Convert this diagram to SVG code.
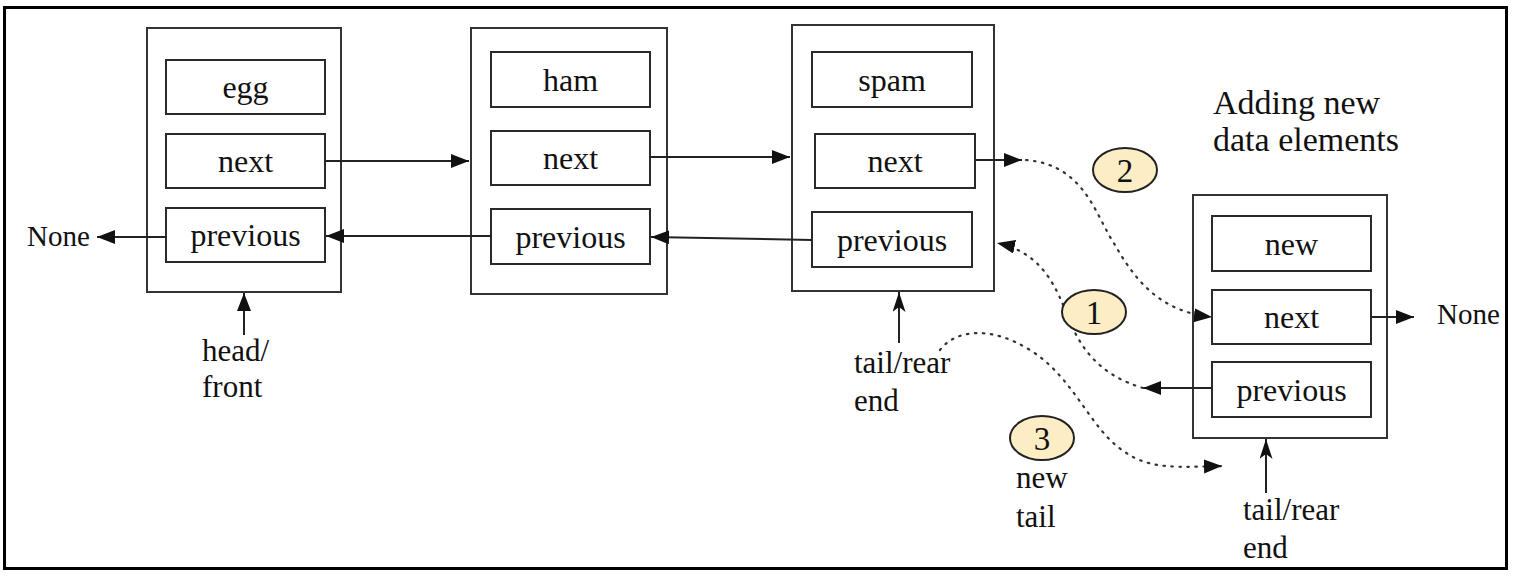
<svg xmlns="http://www.w3.org/2000/svg" width="1514" height="577" viewBox="0 0 1514 577">
<style>
.frame{fill:#fff;stroke:#000;stroke-width:3}
.outer{fill:#fff;stroke:#333;stroke-width:2}
.field{fill:#fff;stroke:#2a2a2a;stroke-width:2}
.t{font-family:"Liberation Serif","Times New Roman",serif;font-size:32px;fill:#111}
.lb{font-size:31px}
.tc{text-anchor:middle}
.ln{fill:none;stroke:#222;stroke-width:2}
.dot{fill:none;stroke:#333;stroke-width:2.2;stroke-dasharray:1.5 6.5;stroke-linecap:round}
.badge{fill:#fcedc4;stroke:#222;stroke-width:2}
</style>
<defs>
<marker id="ah" markerUnits="userSpaceOnUse" markerWidth="20" markerHeight="16" refX="18" refY="7" orient="auto">
<path d="M0,0 L18,7 L0,14 z" fill="#111"/>
</marker>
<marker id="av" markerUnits="userSpaceOnUse" markerWidth="22" markerHeight="16" refX="20" refY="6.5" orient="auto">
<path d="M0,0 L20,6.5 L0,13 L5,6.5 z" fill="#111"/>
</marker>
</defs>
<rect class="frame" x="4.5" y="7.5" width="1502" height="561"/>

<g id="node-egg">
<rect class="outer" x="147" y="28" width="194" height="264"/>
<rect class="field" x="166" y="60" width="159" height="54"/>
<text class="t tc" x="245.5" y="98">egg</text>
<rect class="field" x="166" y="134" width="159" height="54"/>
<text class="t tc" x="245.5" y="172">next</text>
<rect class="field" x="166" y="208" width="159" height="54"/>
<text class="t tc" x="245.5" y="246">previous</text>
</g>

<g id="node-ham">
<rect class="outer" x="471" y="28" width="196" height="266"/>
<rect class="field" x="491" y="52" width="159" height="55"/>
<text class="t tc" x="570.5" y="91">ham</text>
<rect class="field" x="491" y="131" width="159" height="54"/>
<text class="t tc" x="570.5" y="169">next</text>
<rect class="field" x="491" y="209" width="159" height="55"/>
<text class="t tc" x="570.5" y="248">previous</text>
</g>

<g id="node-spam">
<rect class="outer" x="792" y="25" width="202" height="266"/>
<rect class="field" x="812" y="52" width="160" height="55"/>
<text class="t tc" x="892" y="91">spam</text>
<rect class="field" x="815" y="134" width="160" height="54"/>
<text class="t tc" x="895" y="172">next</text>
<rect class="field" x="812" y="212" width="160" height="55"/>
<text class="t tc" x="892" y="251">previous</text>
</g>

<g id="node-new">
<rect class="outer" x="1193" y="195" width="194" height="243"/>
<rect class="field" x="1212" y="216" width="159" height="55"/>
<text class="t tc" x="1291.5" y="255">new</text>
<rect class="field" x="1212" y="290" width="159" height="54"/>
<text class="t tc" x="1291.5" y="328">next</text>
<rect class="field" x="1212" y="362" width="159" height="55"/>
<text class="t tc" x="1291.5" y="401">previous</text>
</g>

<g id="labels">
<text class="t" x="27" y="246" style="font-size:29px">None</text>
<text class="t" x="1437" y="324" style="font-size:29px">None</text>
<text class="t lb" x="202" y="361">head/</text>
<text class="t lb" x="202" y="397">front</text>
<text class="t lb" x="854" y="373">tail/rear</text>
<text class="t lb" x="854" y="411">end</text>
<text class="t lb" x="1243" y="520">tail/rear</text>
<text class="t lb" x="1243" y="558">end</text>
<text class="t lb" x="1016" y="488">new</text>
<text class="t lb" x="1016" y="527">tail</text>
<text class="t" x="1213" y="114" style="font-size:34px">Adding new</text>
<text class="t" x="1213" y="151" style="font-size:34px">data elements</text>
</g>

<g id="connectors">
<line class="ln" x1="325" y1="161" x2="469" y2="161" marker-end="url(#ah)"/>
<line class="ln" x1="650" y1="157" x2="790" y2="157" marker-end="url(#ah)"/>
<line class="ln" x1="812" y1="240" x2="651" y2="237" marker-end="url(#ah)"/>
<line class="ln" x1="491" y1="236" x2="326" y2="236" marker-end="url(#ah)"/>
<line class="ln" x1="166" y1="237" x2="97" y2="237" marker-end="url(#ah)"/>
<line class="ln" x1="975" y1="160" x2="1022" y2="160" marker-end="url(#ah)"/>
<line class="ln" x1="1371" y1="317" x2="1414" y2="317" marker-end="url(#ah)"/>
<line class="ln" x1="1212" y1="388" x2="1143" y2="388" marker-end="url(#ah)"/>
<line class="ln" x1="244" y1="335" x2="244" y2="293" marker-end="url(#ah)"/>
<line class="ln" x1="899" y1="343" x2="899" y2="292" marker-end="url(#av)"/>
<line class="ln" x1="1266" y1="493" x2="1266" y2="439" marker-end="url(#av)"/>
<path class="dot" d="M1026,160 C1085,165 1095,215 1115,245 C1135,280 1160,312 1212,317" marker-end="url(#ah)"/>
<path class="dot" d="M1143,388 C1100,375 1080,350 1065,310 C1050,270 1030,250 997,243" marker-end="url(#ah)"/>
<path class="dot" d="M940,350 C955,330 990,325 1030,350 C1075,378 1090,430 1125,452 C1150,470 1180,467 1222,466" marker-end="url(#ah)"/>
</g>

<g id="badges">
<g id="badge-2"><ellipse class="badge" cx="1125" cy="170" rx="32" ry="22"/><text class="t tc" x="1125" y="182" style="font-size:33px">2</text></g>
<g id="badge-1"><ellipse class="badge" cx="1094" cy="312" rx="32" ry="22"/><text class="t tc" x="1094" y="324" style="font-size:33px">1</text></g>
<g id="badge-3"><ellipse class="badge" cx="1042" cy="438" rx="32" ry="22"/><text class="t tc" x="1042" y="450" style="font-size:33px">3</text></g>
</g>
</svg>
